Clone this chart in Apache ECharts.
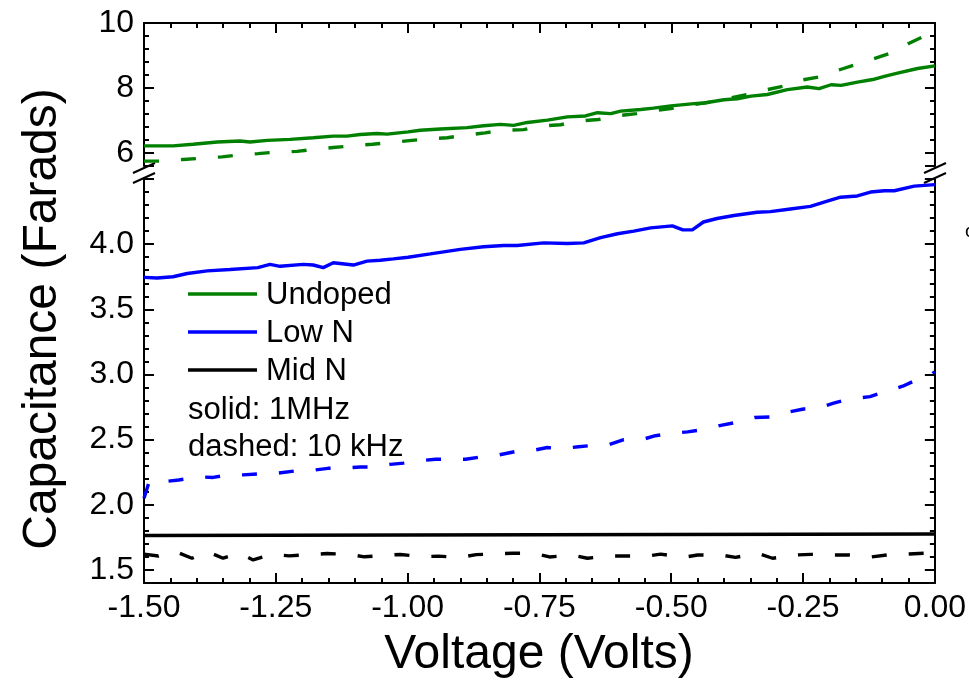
<!DOCTYPE html>
<html>
<head>
<meta charset="utf-8">
<title>Capacitance vs Voltage</title>
<script src="https://cdn.jsdelivr.net/npm/echarts@6/dist/echarts.min.js"></script>
<style>
  html, body { margin: 0; padding: 0; background: #ffffff; }
  #chart { width: 969px; height: 685px; }
</style>
</head>
<body>
<div id="chart"></div>
<script>
// ---- data (Voltage in V, Capacitance in F) ----
const voltageTicks = [-1.5, -1.25, -1.0, -0.75, -0.5, -0.25, 0.0];
const upperTickLabels = [6, 8, 10];
const lowerTickLabels = [1.5, 2.0, 2.5, 3.0, 3.5, 4.0];
const legendNames = ['Undoped', 'Low N', 'Mid N'];
const legendNotes = ['solid: 1MHz', 'dashed: 10 kHz'];
const sampleColors = ['#008000', '#0000ff', '#000000'];

const undoped1MHz = [
  [-1.500, 6.22], [-1.445, 6.22], [-1.407, 6.27], [-1.361, 6.34], [-1.318, 6.37],
  [-1.299, 6.34], [-1.266, 6.39], [-1.223, 6.42], [-1.179, 6.47], [-1.141, 6.52],
  [-1.115, 6.52], [-1.090, 6.57], [-1.058, 6.60], [-1.039, 6.58], [-0.999, 6.65],
  [-0.976, 6.70], [-0.938, 6.74], [-0.887, 6.78], [-0.856, 6.84], [-0.824, 6.88],
  [-0.799, 6.85], [-0.773, 6.94], [-0.735, 7.01], [-0.697, 7.11], [-0.663, 7.14],
  [-0.640, 7.24], [-0.615, 7.21], [-0.596, 7.29], [-0.558, 7.34], [-0.534, 7.38],
  [-0.501, 7.45], [-0.457, 7.52], [-0.438, 7.54], [-0.400, 7.64], [-0.375, 7.67],
  [-0.349, 7.75], [-0.318, 7.80], [-0.280, 7.95], [-0.242, 8.03], [-0.220, 7.98],
  [-0.197, 8.10], [-0.178, 8.08], [-0.147, 8.18], [-0.118, 8.26], [-0.096, 8.36],
  [-0.071, 8.46], [-0.033, 8.60], [0.000, 8.68]
];
const undoped10kHz = [
  [-1.500, 5.75], [-1.470, 5.75], [-1.426, 5.80], [-1.399, 5.83], [-1.352, 5.88],
  [-1.327, 5.93], [-1.284, 5.98], [-1.255, 6.02], [-1.210, 6.05], [-1.185, 6.10],
  [-1.141, 6.17], [-1.113, 6.21], [-1.067, 6.27], [-1.039, 6.31], [-0.997, 6.38],
  [-0.966, 6.43], [-0.925, 6.47], [-0.894, 6.54], [-0.853, 6.62], [-0.822, 6.70],
  [-0.780, 6.72], [-0.752, 6.82], [-0.710, 6.87], [-0.678, 6.98], [-0.638, 7.03],
  [-0.610, 7.13], [-0.566, 7.21], [-0.536, 7.29], [-0.501, 7.37], [-0.467, 7.47],
  [-0.425, 7.57], [-0.394, 7.67], [-0.356, 7.80], [-0.324, 7.93], [-0.280, 8.08],
  [-0.255, 8.24], [-0.213, 8.36], [-0.185, 8.54], [-0.144, 8.75], [-0.116, 8.90],
  [-0.077, 9.11], [-0.050, 9.37], [-0.011, 9.67], [0.000, 9.78]
];
const lowN1MHz = [
  [-1.500, 3.745], [-1.475, 3.740], [-1.445, 3.750], [-1.418, 3.775], [-1.380, 3.795],
  [-1.337, 3.806], [-1.284, 3.820], [-1.261, 3.845], [-1.242, 3.830], [-1.198, 3.845],
  [-1.179, 3.840], [-1.160, 3.820], [-1.141, 3.857], [-1.103, 3.840], [-1.077, 3.870],
  [-1.052, 3.877], [-1.027, 3.887], [-0.999, 3.900], [-0.957, 3.925], [-0.900, 3.960],
  [-0.856, 3.980], [-0.818, 3.990], [-0.792, 3.990], [-0.742, 4.010], [-0.697, 4.005],
  [-0.666, 4.010], [-0.634, 4.050], [-0.602, 4.080], [-0.571, 4.100], [-0.539, 4.125],
  [-0.498, 4.140], [-0.478, 4.110], [-0.460, 4.110], [-0.439, 4.170], [-0.413, 4.197],
  [-0.381, 4.220], [-0.337, 4.245], [-0.312, 4.250], [-0.274, 4.270], [-0.236, 4.290],
  [-0.204, 4.330], [-0.179, 4.360], [-0.147, 4.370], [-0.122, 4.400], [-0.096, 4.410],
  [-0.077, 4.410], [-0.039, 4.445], [0.000, 4.457]
];
const lowN10kHz = [
  [-1.500, 2.05], [-1.490, 2.18], [-1.457, 2.18], [-1.434, 2.19], [-1.397, 2.215],
  [-1.369, 2.21], [-1.339, 2.23], [-1.312, 2.23], [-1.274, 2.24], [-1.251, 2.24],
  [-1.213, 2.26], [-1.189, 2.26], [-1.151, 2.28], [-1.124, 2.28], [-1.090, 2.29],
  [-1.065, 2.29], [-1.033, 2.31], [-1.008, 2.32], [-0.972, 2.34], [-0.947, 2.35],
  [-0.913, 2.35], [-0.890, 2.35], [-0.856, 2.37], [-0.830, 2.38], [-0.794, 2.41],
  [-0.771, 2.41], [-0.735, 2.44], [-0.710, 2.43], [-0.676, 2.445], [-0.649, 2.456],
  [-0.619, 2.46], [-0.590, 2.50], [-0.556, 2.50], [-0.530, 2.53], [-0.496, 2.55],
  [-0.469, 2.56], [-0.433, 2.58], [-0.406, 2.61], [-0.370, 2.637], [-0.342, 2.67],
  [-0.306, 2.675], [-0.285, 2.706], [-0.249, 2.735], [-0.228, 2.735], [-0.192, 2.78],
  [-0.165, 2.81], [-0.123, 2.83], [-0.093, 2.87], [-0.061, 2.91], [-0.034, 2.96],
  [-0.008, 3.00], [0.000, 3.02]
];
const midN1MHz = [
  [-1.500, 1.764], [-1.000, 1.768], [-0.500, 1.772], [0.000, 1.776]
];
const midN10kHz = [
  [-1.500, 1.622], [-1.473, 1.607], [-1.441, 1.642], [-1.409, 1.590], [-1.380, 1.642],
  [-1.350, 1.590], [-1.320, 1.630], [-1.293, 1.577], [-1.257, 1.620], [-1.225, 1.608],
  [-1.183, 1.618], [-1.153, 1.626], [-1.111, 1.620], [-1.082, 1.601], [-1.039, 1.614],
  [-1.014, 1.619], [-0.972, 1.602], [-0.942, 1.606], [-0.900, 1.597], [-0.870, 1.618],
  [-0.830, 1.624], [-0.801, 1.628], [-0.760, 1.628], [-0.731, 1.600], [-0.687, 1.614],
  [-0.659, 1.590], [-0.619, 1.607], [-0.590, 1.607], [-0.545, 1.607], [-0.520, 1.622],
  [-0.477, 1.597], [-0.450, 1.615], [-0.406, 1.615], [-0.378, 1.597], [-0.336, 1.628],
  [-0.308, 1.590], [-0.264, 1.615], [-0.235, 1.620], [-0.192, 1.615], [-0.163, 1.615],
  [-0.120, 1.600], [-0.091, 1.615], [-0.049, 1.623], [-0.021, 1.628], [0.000, 1.630]
];

// ---- layout ----
const FONT = '"Liberation Sans", Arial, Helvetica, sans-serif';
const plotLeft = 144, plotRight = 935;
const upper = { top: 23, height: 143, min: 5.6, max: 10, step: 2 };
const lower = { top: 179, height: 404, min: 1.4, max: 4.5, step: 0.5 };
const dashPattern = [15, 22];
const axisColor = '#000000';

function yAxesFor(gridIndex, range, labels, labelFmt) {
  const base = {
    type: 'value', gridIndex, min: range.min, max: range.max,
    // the tick step is pinned through min/maxInterval; ticks fall on multiples of it
    minInterval: range.step, maxInterval: range.step,
    splitLine: { show: false },
    // keep each axis on its own edge (the voltage range ends at 0)
    axisLine: { show: true, onZero: false, lineStyle: { color: axisColor, width: 2 } },
    axisTick: { show: true, inside: true, length: 10, lineStyle: { color: axisColor, width: 2 } },
    minorTick: { show: true, splitNumber: 5, length: 5, lineStyle: { color: axisColor, width: 2 } }
  };
  const left = Object.assign({}, base, {
    position: 'left',
    axisLabel: {
      show: true, customValues: labels, formatter: labelFmt,
      fontSize: 32, fontFamily: FONT, color: '#000', margin: 10
    }
  });
  const right = Object.assign({}, base, { position: 'right', axisLabel: { show: false } });
  return [left, right];
}

const xBase = {
  type: 'value', min: -1.5, max: 0, interval: 0.25,
  splitLine: { show: false },
  axisLine: { show: true, onZero: false, lineStyle: { color: axisColor, width: 2 } },
  axisTick: { show: true, inside: true, length: 10, lineStyle: { color: axisColor, width: 2 } },
  minorTick: { show: true, splitNumber: 5, length: 5, lineStyle: { color: axisColor, width: 2 } }
};

function curve(name, data, grid, color, dashed) {
  return {
    type: 'line', name, data,
    xAxisIndex: grid, yAxisIndex: grid * 2,
    symbol: 'none', showSymbol: false, smooth: false,
    lineStyle: { color, width: 3.4, type: dashed ? dashPattern : 'solid' },
    silent: true, animation: false, clip: true
  };
}

// ---- decorations: legend, axis titles, break marks ----
const graphics = [];
const legendRowY = [294, 332, 370];
legendNames.forEach((name, i) => {
  graphics.push({
    type: 'line', silent: true,
    shape: { x1: 188, y1: legendRowY[i], x2: 257, y2: legendRowY[i] },
    style: { stroke: sampleColors[i], lineWidth: 3.4 }
  });
  graphics.push({
    type: 'text', silent: true, x: 266, y: legendRowY[i] + 1,
    style: { text: name, font: '31px ' + FONT, fill: '#000', align: 'left', verticalAlign: 'middle' }
  });
});
const noteRowY = [410, 447];
legendNotes.forEach((note, i) => {
  graphics.push({
    type: 'text', silent: true, x: 188, y: noteRowY[i],
    style: { text: note, font: '31px ' + FONT, fill: '#000', align: 'left', verticalAlign: 'middle' }
  });
});
graphics.push({
  type: 'text', silent: true, x: 539, y: 655,
  style: { text: 'Voltage (Volts)', font: '48px ' + FONT, fill: '#000', align: 'center', verticalAlign: 'middle' }
});
graphics.push({
  type: 'text', silent: true, x: 43, y: 319, rotation: Math.PI / 2,
  style: { text: 'Capacitance (Farads)', font: '48px ' + FONT, fill: '#000', align: 'center', verticalAlign: 'middle' }
});
graphics.push({
  type: 'text', silent: true, x: 965, y: 232,
  style: { text: 'o', font: '19px ' + FONT, fill: '#000', align: 'left', verticalAlign: 'middle' }
});
// axis break slashes on both sides of the gap between panels
[plotLeft, plotRight].forEach((cx) => {
  [168, 178].forEach((cy) => {
    graphics.push({
      type: 'line', silent: true,
      shape: { x1: cx - 11, y1: cy + 5, x2: cx + 11, y2: cy - 5 },
      style: { stroke: '#000', lineWidth: 2 }
    });
  });
});

const option = {
  backgroundColor: '#ffffff',
  animation: false,
  grid: [
    { left: plotLeft, right: 969 - plotRight, top: upper.top, height: upper.height, containLabel: false },
    { left: plotLeft, right: 969 - plotRight, top: lower.top, height: lower.height, containLabel: false }
  ],
  xAxis: [
    Object.assign({}, xBase, { gridIndex: 0, position: 'top', axisLabel: { show: false } }),
    Object.assign({}, xBase, {
      gridIndex: 1, position: 'bottom',
      axisLabel: {
        show: true, fontSize: 32, fontFamily: FONT, color: '#000', margin: 9,
        formatter: (v) => voltageTicks.some((t) => Math.abs(t - v) < 1e-9) ? v.toFixed(2) : ''
      }
    })
  ],
  yAxis: [].concat(
    yAxesFor(0, upper, upperTickLabels, (v) => String(Math.round(v))),
    yAxesFor(1, lower, lowerTickLabels, (v) => v.toFixed(1))
  ),
  series: [
    curve('Undoped 10 kHz', undoped10kHz, 0, sampleColors[0], true),
    curve('Undoped', undoped1MHz, 0, sampleColors[0], false),
    curve('Low N 10 kHz', lowN10kHz, 1, sampleColors[1], true),
    curve('Low N', lowN1MHz, 1, sampleColors[1], false),
    curve('Mid N 10 kHz', midN10kHz, 1, sampleColors[2], true),
    curve('Mid N', midN1MHz, 1, sampleColors[2], false)
  ],
  graphic: graphics
};

const chart = echarts.init(document.getElementById('chart'), null, { renderer: 'canvas', width: 969, height: 685 });
chart.setOption(option);
</script>
</body>
</html>
